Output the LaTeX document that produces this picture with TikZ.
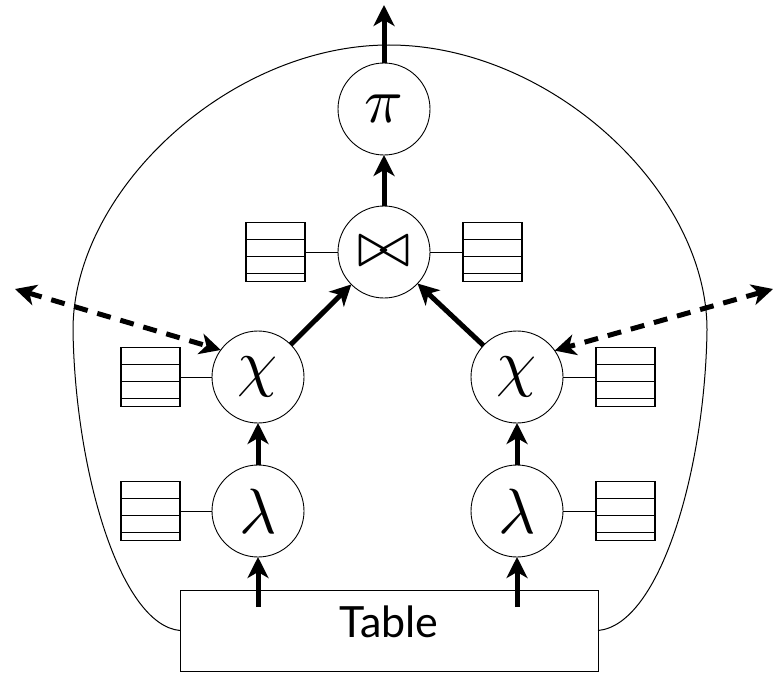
\documentclass[tikz,border=0pt]{standalone}
\usepackage{graphicx}
\usepackage{fontspec}
\newfontfamily\tablefont{Lato}
\usetikzlibrary{arrows.meta,positioning}
\newcommand{\opsym}[1]{\scalebox{6.4}{$#1$}}

\begin{document}
\begin{tikzpicture}[
  x=1pt, y=-1pt,
  op/.style={circle, draw, line width=0.9pt, minimum size=92pt, inner sep=0pt,
             outer sep=0pt},
  relbox/.style={rectangle, draw, line width=1.2pt, minimum width=59pt,
             minimum height=59pt, inner sep=0pt, outer sep=0pt,
             path picture={\foreach \rowy in {17,34,51}
               \draw[line width=1.2pt]
                 ([yshift=-\rowy pt]path picture bounding box.north west) --
                 ([yshift=-\rowy pt]path picture bounding box.north east);}},
  source/.style={rectangle, draw, line width=1pt, minimum width=418pt,
             minimum height=81pt, text depth=18pt, inner sep=0pt, outer sep=0pt,
             font=\tablefont\fontsize{43}{43}\selectfont},
  link/.style={line width=1pt},
  flow/.style={-{Stealth[length=21pt,width=21pt,inset=6pt]}, line width=5pt},
  probe/.style={{Stealth[length=21pt,width=21pt,inset=6pt]}-{Stealth[length=21pt,width=21pt,inset=6pt]},
             line width=5pt, dash pattern=on 14pt off 10pt},
]
\useasboundingbox (0,0) rectangle (778,677);

% Operators
\node[source] (tbl) at (389,630.5) {Table};
\node[op] (proj) at (384,109) {\opsym{\pi}};
\node[op] (join) at (384,252) {\opsym{\bowtie}};
\node[op] (chiL) at (258,377) {\opsym{\chi}};
\node[op] (chiR) at (517,377) {\opsym{\chi}};
\node[op] (lamL) at (258,511) {\opsym{\lambda}};
\node[op] (lamR) at (517,511) {\opsym{\lambda}};

% State tables
\node[relbox, left=33pt of join] (rjoinL) {};
\node[relbox, right=33pt of join] (rjoinR) {};
\node[relbox, left=32pt of chiL] (rchiL) {};
\node[relbox, right=33pt of chiR] (rchiR) {};
\node[relbox, left=32pt of lamL] (rlamL) {};
\node[relbox, right=33pt of lamR] (rlamR) {};

\foreach \st/\opn in {rjoinL/join,rjoinR/join,rchiL/chiL,rchiR/chiR,rlamL/lamL,rlamR/lamR}
  \draw[link] (\st) -- (\opn);

% Outline
\draw[link] (tbl.west) .. controls (120,625) and (75,470) .. (73,330)
  .. controls (73,190) and (230,45) .. (389,45)
  .. controls (550,45) and (707,190) .. (707,330)
  .. controls (705,470) and (660,625) .. (tbl.east);

% Free ends
\coordinate (out) at (384,5);
\coordinate (inL) at (258,607);
\coordinate (inR) at (517,607);
\coordinate (exL) at (15,289);
\coordinate (exR) at (773,289);

% Data flow
\draw[flow] (inL) -- (lamL);
\draw[flow] (inR) -- (lamR);
\draw[flow] (lamL) -- (chiL);
\draw[flow] (lamR) -- (chiR);
\draw[flow] (chiL) -- (join);
\draw[flow] (chiR) -- (join);
\draw[flow] (join) -- (proj);
\draw[flow] (proj) -- (out);
\draw[probe] (exL) -- (chiL.144);
\draw[probe] (exR) -- (chiR.35);

\end{tikzpicture}
\end{document}
